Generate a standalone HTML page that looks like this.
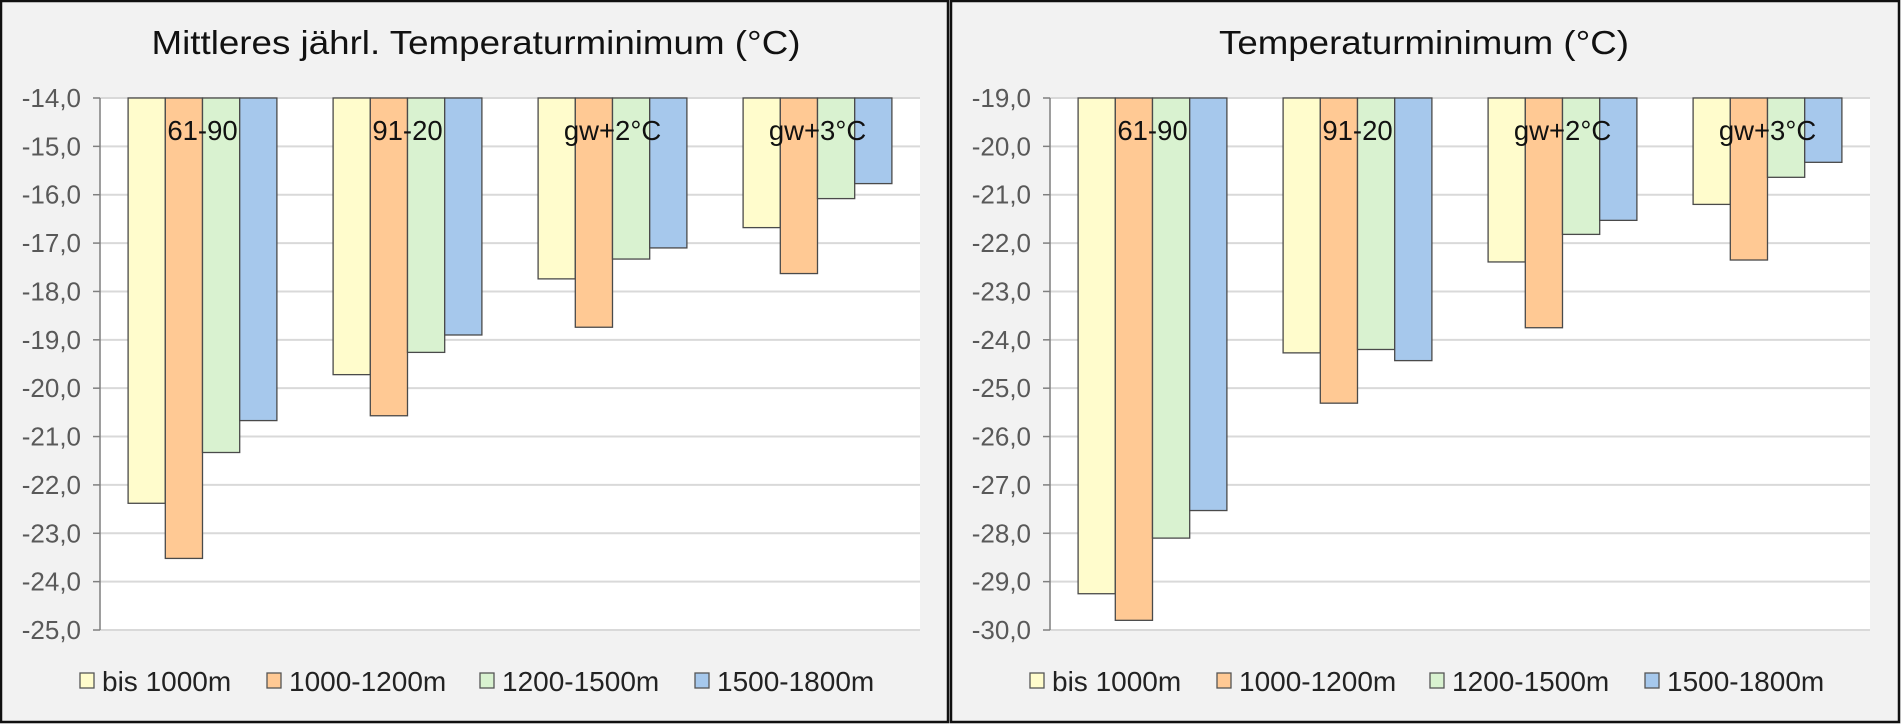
<!DOCTYPE html>
<html><head><meta charset="utf-8"><style>
html,body{margin:0;padding:0;background:#f2f2f2;}
svg{display:block;font-family:"Liberation Sans",Arial,sans-serif;}
</style></head><body>
<svg id="root" width="1901" height="724" viewBox="0 0 1901 724" xmlns="http://www.w3.org/2000/svg"></svg>
<script>
const categories = ["61-90","91-20","gw+2°C","gw+3°C"];
const seriesNames = ["bis 1000m","1000-1200m","1200-1500m","1500-1800m"];
const leftValuesBis1000 = [-22.38,-19.72,-17.74,-16.68];
const leftValues1000_1200 = [-23.52,-20.57,-18.74,-17.63];
const leftValues1200_1500 = [-21.33,-19.26,-17.33,-16.08];
const leftValues1500_1800 = [-20.67,-18.90,-17.10,-15.77];
const rightValuesBis1000 = [-29.25,-24.27,-22.39,-21.20];
const rightValues1000_1200 = [-29.80,-25.31,-23.75,-22.35];
const rightValues1200_1500 = [-28.10,-24.20,-21.82,-20.64];
const rightValues1500_1800 = [-27.53,-24.43,-21.53,-20.33];
const leftTicks = [-14,-15,-16,-17,-18,-19,-20,-21,-22,-23,-24,-25];
const rightTicks = [-19,-20,-21,-22,-23,-24,-25,-26,-27,-28,-29,-30];

const NS="http://www.w3.org/2000/svg";
const root=document.getElementById('root');
const fills=["#fffccc","#ffc994","#d9f2d0","#a6c8ec"];
function mk(tag,attrs,parent){const e=document.createElementNS(NS,tag);for(const k in attrs)e.setAttribute(k,attrs[k]);(parent||root).appendChild(e);return e;}

function panel(o){
  const g=mk('g',{});
  
  
  const bg=mk('rect',{x:o.px+1,y:1,width:o.pw-2,height:721,fill:'#f2f2f2',stroke:'#111',"stroke-width":2.5},g);
  
  
  const t=mk('text',{x:o.titleX,y:54,'text-anchor':'middle','font-size':33,fill:'#111',textLength:o.titleW,lengthAdjust:'spacingAndGlyphs'},g);
  t.textContent=o.title;
  
  
  const y0=98,y1=630,x0=o.ax,x1=o.ax+820;
  const vmax=o.ticks[0],vmin=o.ticks[o.ticks.length-1];
  const Y=v=>y0+(vmax-v)/(vmax-vmin)*(y1-y0);
  const pa=mk('rect',{x:x0,y:y0,width:x1-x0,height:y1-y0,fill:'#fff'},g);
  
  
  o.ticks.forEach(v=>{
    const gl=mk('line',{x1:x0,x2:x1,y1:Y(v),y2:Y(v),stroke:'#d9d9d9','stroke-width':2},g);
    
    
    mk('line',{x1:x0-7,x2:x0,y1:Y(v),y2:Y(v),stroke:'#7f7f7f','stroke-width':1.5},g);
    const tl=mk('text',{x:x0-19,y:Y(v)+9,'text-anchor':'end','font-size':26,fill:'#595959'},g);
    tl.textContent=v.toFixed(1).replace('.',',');
    
    
  });
  const axl=mk('line',{x1:x0,x2:x0,y1:y0,y2:y1,stroke:'#7f7f7f','stroke-width':1.5},g);
  
  
  const cw=(x1-x0)/categories.length,bw=37.2,off=(cw-4*bw)/2;
  categories.forEach((c,i)=>{
    o.series.forEach((arr,s)=>{
      const bx=x0+i*cw+off+s*bw;
      const b=mk('rect',{x:bx,y:y0,width:bw,height:Y(arr[i])-y0,fill:fills[s],stroke:'#4a4a4a','stroke-width':1.3},g);
      
      
    });
    const cl=mk('text',{x:x0+i*cw+cw/2,y:140,'text-anchor':'middle','font-size':27.5,fill:'#111'},g);
    cl.textContent=c;
    
    
  });
  const mx=[80,267,480,695];
  seriesNames.forEach((n,s)=>{
    const lx=o.px+mx[s];
    const m=mk('rect',{x:lx,y:673,width:14,height:15,fill:fills[s],stroke:'#555','stroke-width':1.3},g);
    
    
    const lt=mk('text',{x:lx+22,y:691,'font-size':28,fill:'#222'},g);
    lt.textContent=n;
    
    
  });
}
panel({name:'left-chart',px:0,pw:949,title:'Mittleres jährl. Temperaturminimum (°C)',titleX:476,titleW:649,ax:100,ticks:leftTicks,
  series:[leftValuesBis1000,leftValues1000_1200,leftValues1200_1500,leftValues1500_1800]});
panel({name:'right-chart',px:950,pw:950,title:'Temperaturminimum (°C)',titleX:1424,titleW:410,ax:1050,ticks:rightTicks,
  series:[rightValuesBis1000,rightValues1000_1200,rightValues1200_1500,rightValues1500_1800]});
</script>
</body></html>
